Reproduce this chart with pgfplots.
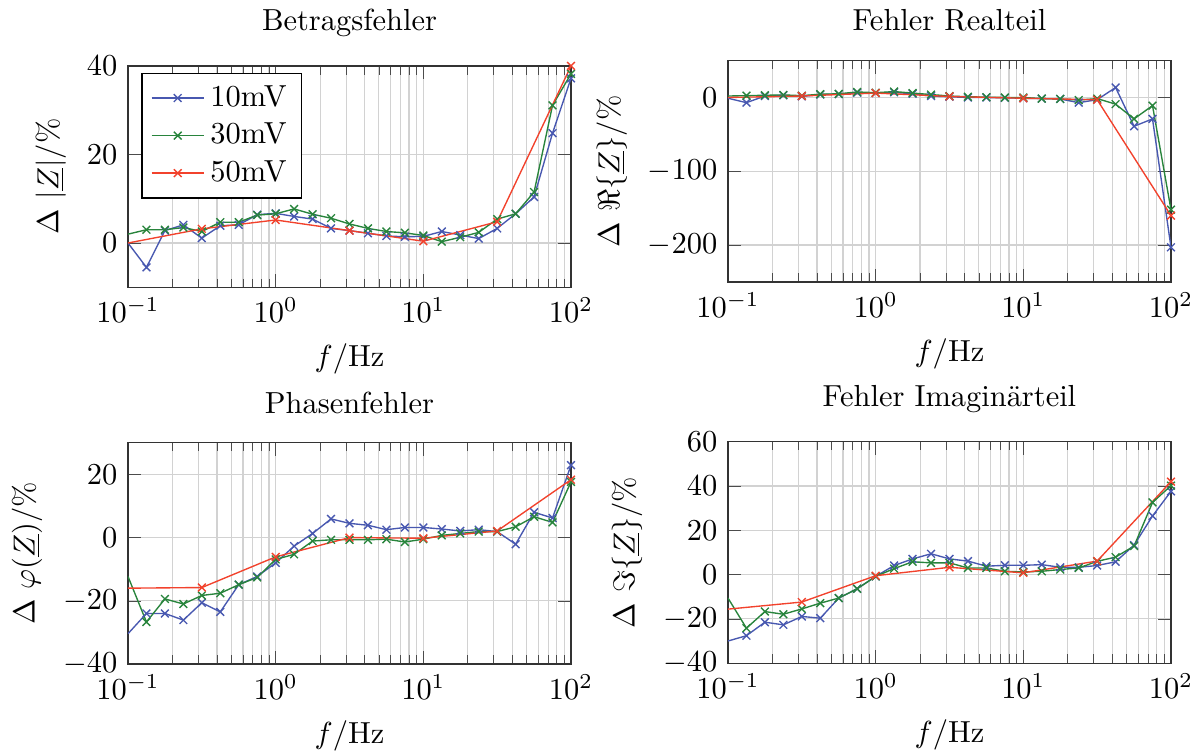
\documentclass[border=0pt]{standalone}
\usepackage{pgfplots}
\pgfplotsset{compat=1.18}
\usepackage{pgfplotstable}
\definecolor{cb}{RGB}{72,88,176}
\definecolor{cg}{RGB}{40,132,60}
\definecolor{cr}{RGB}{242,66,44}

% columns: f, blue (10mV), green (30mV)
\pgfplotstableread{
f a b
0.1     0    2.0
0.13335 -5.5 3.0
0.17783 2.8  3.0
0.23714 4.1  3.5
0.31623 1.1  2.6
0.42170 3.9  4.7
0.56234 4.1  4.7
0.74989 6.4  6.3
1       6.7  6.6
1.3335  6.0  7.7
1.7783  5.4  6.5
2.3714  3.3  5.6
3.1623  2.8  4.3
4.2170  2.2  3.3
5.6234  1.6  2.6
7.4989  1.4  2.3
10      1.5  1.7
13.335  2.6  0.3
17.783  1.8  1.3
23.714  1.0  2.4
31.623  3.3  5.4
42.170  6.6  6.6
56.234  10.4 11.5
74.989  24.8 31.1
100     37.2 38.2
}\tabBetrag
\pgfplotstableread{
f c
0.1    0
0.31623 3.2
1      5.2
3.1623 2.8
10     0.4
31.623 4.8
100    40
}\tabBetragR

\pgfplotstableread{
f a b
0.1     -1   2
0.13335 -7   2.5
0.17783 2    3
0.23714 3    3.5
0.31623 1.5  2.5
0.42170 4    4.5
0.56234 4.5  5
0.74989 6.5  7.5
1       6    6.5
1.3335  7    8
1.7783  5    6
2.3714  2    4
3.1623  1    2
4.2170  0    1
5.6234  0    0.5
7.4989  -0.5 0
10      -1   0
13.335  -1.5 -1.5
17.783  -2   -2
23.714  -7   -3.5
31.623  -3   -1.5
42.170  13.5 -9
56.234  -39  -29
74.989  -29  -11
100     -203 -152
}\tabReal
\pgfplotstableread{
f c
0.1    0
0.31623 2
1      6
3.1623 1.4
10     -1
31.623 -3
100    -160
}\tabRealR

\pgfplotstableread{
f a b
0.1     -30.4 -12.3
0.13335 -24   -26.7
0.17783 -24   -19.4
0.23714 -26.1 -21
0.31623 -20.6 -18.3
0.42170 -23.5 -17.6
0.56234 -14.9 -14.9
0.74989 -12.3 -12.6
1       -8    -6.9
1.3335  -2.7  -5.3
1.7783  1.3   -1.1
2.3714  5.9   -0.7
3.1623  4.5   -0.7
4.2170  3.9   -0.7
5.6234  2.5   -0.5
7.4989  3.2   -1.4
10      3.2   -0.5
13.335  2.7   0.7
17.783  2.1   1.3
23.714  2.5   1.9
31.623  1.9   1.9
42.170  -2.1  3.4
56.234  8.0   6.6
74.989  6.2   4.8
100     22.9  17.6
}\tabPhase
\pgfplotstableread{
f c
0.1    -16
0.31623 -15.8
1      -6.1
3.1623 0
10     -0.2
31.623 2.1
100    18.3
}\tabPhaseR

\pgfplotstableread{
f a b
0.1     -30   -10.6
0.13335 -27.6 -24.2
0.17783 -21.5 -16.7
0.23714 -22.7 -17.9
0.31623 -18.9 -15.5
0.42170 -19.7 -12.9
0.56234 -10.6 -10.6
0.74989 -6.4  -6.4
1       -0.8  -0.8
1.3335  4.1   2.7
1.7783  7.1   5.8
2.3714  9.4   5.3
3.1623  7.1   5.3
4.2170  6.1   3.0
5.6234  3.8   3.0
7.4989  4.2   1.5
10      4.2   1.2
13.335  4.5   1.5
17.783  3.3   2.3
23.714  3.3   3.0
31.623  4.1   6.0
42.170  5.8   7.9
56.234  13.3  12.9
74.989  26.5  32.6
100     37.6  40.2
}\tabImag
\pgfplotstableread{
f c
0.1    -15.6
0.31623 -12.4
1      -0.5
3.1623 3.3
10     0.8
31.623 6.1
100    42
}\tabImagR

\begin{document}
\begin{tikzpicture}
\path[use as bounding box] (0,0) rectangle (393.8pt,-247pt);

% top left
\begin{axis}[
  xmode=log, xmin=0.1, xmax=100,
  scale only axis, width=145.5pt, height=72.7pt,
  anchor=south west, at={(42.04pt,-94.35pt)},
  grid=both, major grid style={gray!35}, minor grid style={gray!35},
  axis line style={black!80}, tick style={black!70},
  xlabel={$f/\mathrm{Hz}$},
  ymin=-10, ymax=40, ytick={0,20,40},
  title={Betragsfehler},
  ylabel={$\Delta\ |\underline{Z}|/\%$},
  legend pos=north west,
  legend cell align=left,
  legend image post style={mark indices={2}}]
\addplot[cb, line width=0.45pt, mark=x, mark size=1.8pt, mark indices={2,...,25}] table[x=f,y=a] {\tabBetrag};
\addlegendentry{10mV}
\addplot[cg, line width=0.45pt, mark=x, mark size=1.8pt, mark indices={2,...,25}] table[x=f,y=b] {\tabBetrag};
\addlegendentry{30mV}
\addplot[cr, line width=0.45pt, mark=x, mark size=1.8pt, mark indices={2,...,7}] table[x=f,y=c] {\tabBetragR};
\addlegendentry{50mV}
\end{axis}

% top right
\begin{axis}[
  xmode=log, xmin=0.1, xmax=100,
  scale only axis, width=145.5pt, height=72.7pt,
  anchor=south west, at={(239.1pt,-92.6pt)},
  grid=both, major grid style={gray!35}, minor grid style={gray!35},
  axis line style={black!80}, tick style={black!70},
  xlabel={$f/\mathrm{Hz}$},
  ymin=-250, ymax=50, ytick={-200,-100,0},
  title={Fehler Realteil},
  ylabel={$\Delta\ \Re\{\underline{Z}\}/\%$}]
\addplot[cb, line width=0.45pt, mark=x, mark size=1.8pt, mark indices={2,...,25}] table[x=f,y=a] {\tabReal};
\addplot[cg, line width=0.45pt, mark=x, mark size=1.8pt, mark indices={2,...,25}] table[x=f,y=b] {\tabReal};
\addplot[cr, line width=0.45pt, mark=x, mark size=1.8pt, mark indices={2,...,7}] table[x=f,y=c] {\tabRealR};
\end{axis}

% bottom left
\begin{axis}[
  xmode=log, xmin=0.1, xmax=100,
  scale only axis, width=145.5pt, height=72.7pt,
  anchor=south west, at={(42.04pt,-218.1pt)},
  grid=both, major grid style={gray!35}, minor grid style={gray!35},
  axis line style={black!80}, tick style={black!70},
  xlabel={$f/\mathrm{Hz}$},
  ymin=-40, ymax=30, ytick={-40,-20,0,20},
  title={Phasenfehler},
  ylabel={$\Delta\ \varphi(\underline{Z})/\%$}]
\addplot[cb, line width=0.45pt, mark=x, mark size=1.8pt, mark indices={2,...,25}] table[x=f,y=a] {\tabPhase};
\addplot[cg, line width=0.45pt, mark=x, mark size=1.8pt, mark indices={2,...,25}] table[x=f,y=b] {\tabPhase};
\addplot[cr, line width=0.45pt, mark=x, mark size=1.8pt, mark indices={2,...,7}] table[x=f,y=c] {\tabPhaseR};
\end{axis}

% bottom right
\begin{axis}[
  xmode=log, xmin=0.1, xmax=100,
  scale only axis, width=145.5pt, height=72.7pt,
  anchor=south west, at={(239.1pt,-217.8pt)},
  grid=both, major grid style={gray!35}, minor grid style={gray!35},
  axis line style={black!80}, tick style={black!70},
  xlabel={$f/\mathrm{Hz}$},
  ymin=-40, ymax=60, ytick={-40,-20,0,20,40,60},
  title={Fehler Imagin\"arteil},
  ylabel={$\Delta\ \Im\{\underline{Z}\}/\%$}]
\addplot[cb, line width=0.45pt, mark=x, mark size=1.8pt, mark indices={2,...,25}] table[x=f,y=a] {\tabImag};
\addplot[cg, line width=0.45pt, mark=x, mark size=1.8pt, mark indices={2,...,25}] table[x=f,y=b] {\tabImag};
\addplot[cr, line width=0.45pt, mark=x, mark size=1.8pt, mark indices={2,...,7}] table[x=f,y=c] {\tabImagR};
\end{axis}
\end{tikzpicture}
\end{document}
